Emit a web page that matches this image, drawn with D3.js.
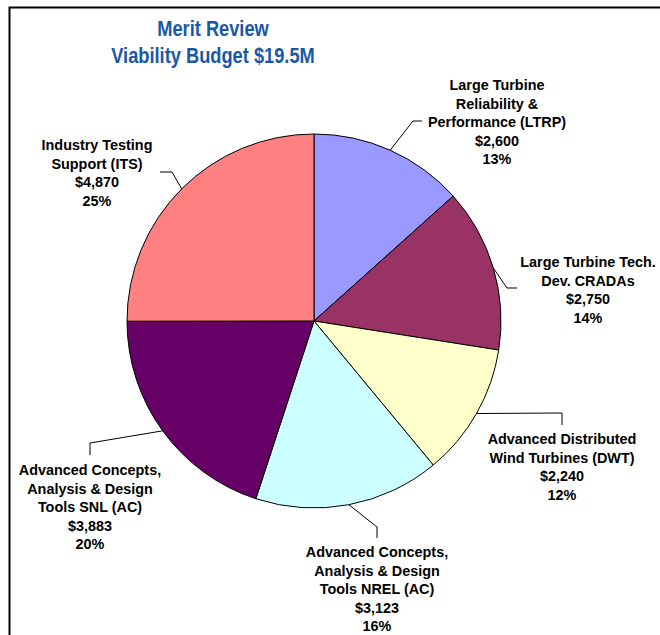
<!DOCTYPE html>
<html>
<head>
<meta charset="utf-8">
<script src="https://cdn.jsdelivr.net/npm/d3@7"></script>
<style>
  body { margin: 0; background: #fff; }
  svg { display: block; font-family: "Liberation Sans", Arial, sans-serif; }
  .slice-label { font-size: 14.4px; font-weight: bold; fill: #000; }
  .title { font-size: 22px; font-weight: bold; fill: #1858a8; }
</style>
</head>
<body>
<svg id="chart" width="660" height="635"></svg>
<script>
// Budget items, clockwise from 12 o'clock (thousands of dollars)
var categories = [
  ['Large Turbine', 'Reliability &', 'Performance (LTRP)'],
  ['Large Turbine Tech.', 'Dev. CRADAs'],
  ['Advanced Distributed', 'Wind Turbines (DWT)'],
  ['Advanced Concepts,', 'Analysis & Design', 'Tools NREL (AC)'],
  ['Advanced Concepts,', 'Analysis & Design', 'Tools SNL (AC)'],
  ['Industry Testing', 'Support (ITS)']
];
var amounts = [2600, 2750, 2240, 3123, 3883, 4870];
var percentLabels = ['13%', '14%', '12%', '16%', '20%', '25%'];
var titleLines = ['Merit Review', 'Viability Budget $19.5M'];

var sliceColors = ['#9999ff', '#993366', '#ffffcc', '#ccffff', '#660066', '#ff8080'];

// Label layout: text centre x, first baseline y, leader elbow and end points
var labelLayout = [
  {x: 497, y: 90,  elbow: [413, 121], end: [422, 121]},
  {x: 588, y: 267, elbow: [507, 288], end: [517, 288]},
  {x: 562, y: 444, elbow: [562, 413], end: [562, 425]},
  {x: 377, y: 557, elbow: [377, 527], end: [377, 538]},
  {x: 90,  y: 475, elbow: [90, 443],  end: [90, 455]},
  {x: 97,  y: 150, elbow: [172, 172], end: [160, 172]}
];

var cx = 314, cy = 321, radius = 187;
var lineHeight = 18.6;
var titleX = 213;

var svg = d3.select('#chart');

// Frame
svg.append('rect')
  .attr('x', 9.5)
  .attr('y', 7.5)
  .attr('width', 700)
  .attr('height', 700)
  .attr('fill', 'none')
  .attr('stroke', '#000')
  .attr('stroke-width', 2);

// Title (condensed like the original)
svg.append('g')
  .attr('transform', 'translate(' + titleX + ',0) scale(0.83,1)')
  .selectAll('.title')
  .data(titleLines)
  .enter().append('text')
  .attr('class', 'title')
  .attr('x', 0)
  .attr('y', function(d, i) { return 36 + i * 27; })
  .attr('text-anchor', 'middle')
  .text(function(d) { return d; });

var pie = d3.pie().sort(null).value(function(d) { return d; });
var arcs = pie(amounts);

var arc = d3.arc().innerRadius(0).outerRadius(radius);
var edgeArc = d3.arc().innerRadius(radius).outerRadius(radius);

var g = svg.append('g').attr('transform', 'translate(' + cx + ',' + cy + ')');

g.selectAll('path')
  .data(arcs)
  .enter().append('path')
  .attr('d', arc)
  .attr('fill', function(d, i) { return sliceColors[i]; })
  .attr('stroke', '#000')
  .attr('stroke-width', 1);

// Leader lines
svg.selectAll('.leader')
  .data(arcs)
  .enter().append('polyline')
  .attr('class', 'leader')
  .attr('fill', 'none')
  .attr('stroke', '#000')
  .attr('stroke-width', 1)
  .attr('points', function(d, i) {
    var p = edgeArc.centroid(d);
    var l = labelLayout[i];
    return [[p[0] + cx, p[1] + cy], l.elbow, l.end].map(function(q) { return q.join(','); }).join(' ');
  });

// Labels
var fmt = d3.format('$,');
var labels = svg.selectAll('.slice-label')
  .data(arcs)
  .enter().append('text')
  .attr('class', 'slice-label')
  .attr('text-anchor', 'middle');

labels.each(function(d, i) {
  var lines = categories[i].concat([fmt(amounts[i]), percentLabels[i]]);
  var l = labelLayout[i];
  d3.select(this).selectAll('tspan')
    .data(lines)
    .enter().append('tspan')
    .attr('x', l.x)
    .attr('y', function(t, j) { return l.y + j * lineHeight; })
    .text(function(t) { return t; });
});
</script>
</body>
</html>
